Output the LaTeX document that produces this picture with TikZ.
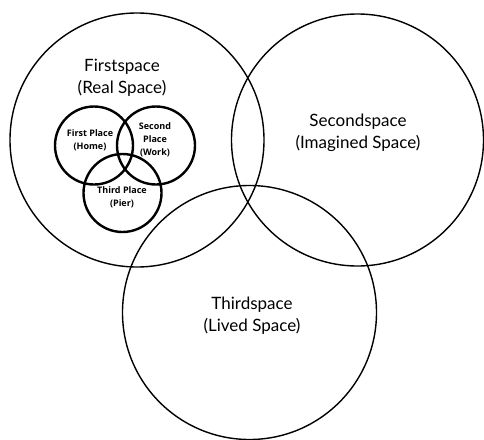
\documentclass[tikz,border=0pt]{standalone}
\usepackage{fontspec}
\setmainfont{Lato}
\newfontfamily\smallfont{Open Sans}
\begin{document}
\begin{tikzpicture}[x=1pt,y=-1pt,
  bigc/.style={draw=black,line width=1.4pt},
  smallc/.style={draw=black,line width=2.4pt},
  biglabel/.style={align=center,font=\fontsize{17}{22}\selectfont,inner sep=0pt},
  smalllabel/.style={align=center,font=\smallfont\bfseries\fontsize{9}{12.8}\selectfont,inner sep=0pt}]
\useasboundingbox (0,0) rectangle (484,439);
\fill[white] (0,0) rectangle (484,439);
\draw[bigc] (137,140) circle (127pt);
\draw[bigc] (357.5,140) circle (126pt);
\draw[bigc] (249.5,312.5) circle (127pt);
\draw[smallc] (94,145.5) circle (39pt);
\draw[smallc] (156,145.5) circle (39pt);
\draw[smallc] (122.5,193) circle (39pt);
\node[biglabel] (first) at (122,78) {Firstspace\\(Real Space)};
\node[biglabel] (second) at (358,132.5) {Secondspace\\(Imagined Space)};
\node[biglabel] (third) at (252,316) {Thirdspace\\(Lived Space)};
\node[smalllabel] (home) at (90,140.5) {First Place\\(Home)};
\node[smalllabel] (work) at (155,140) {Second\\Place\\(Work)};
\node[smalllabel] (pier) at (122,197) {Third Place\\(Pier)};
\end{tikzpicture}
\end{document}
